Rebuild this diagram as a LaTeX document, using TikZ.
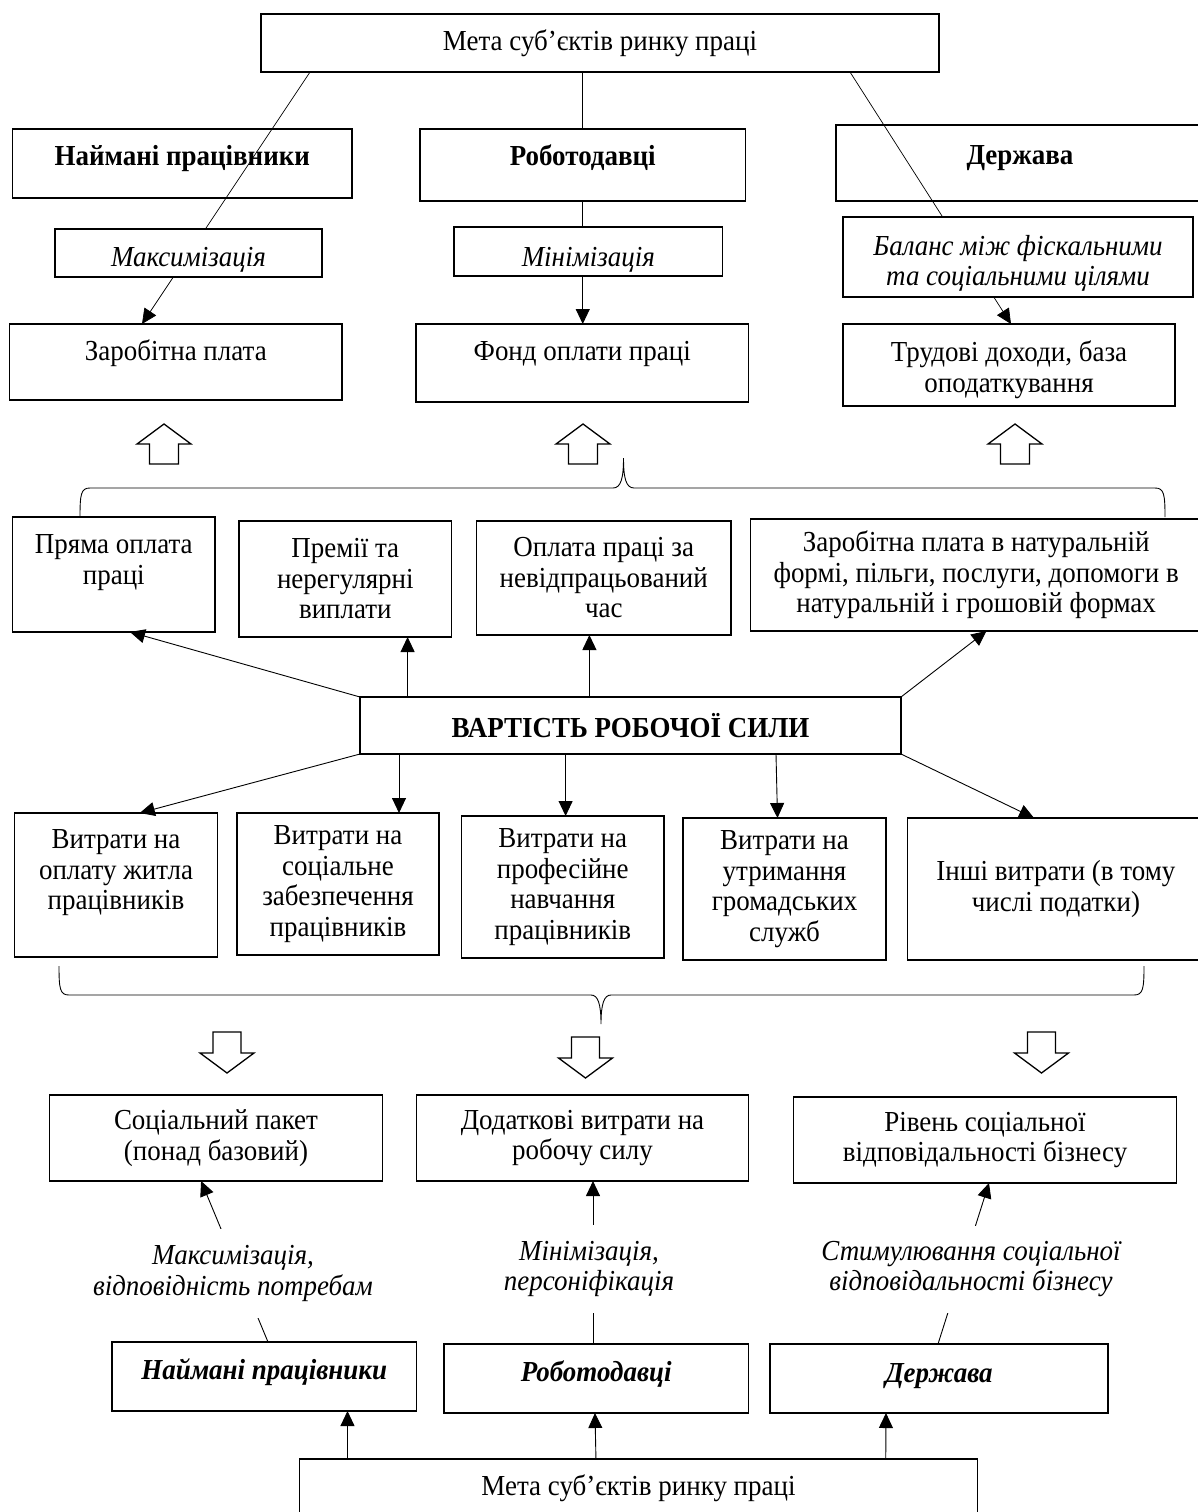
\documentclass[tikz,border=0pt]{standalone}
\usepackage{fontspec}
\setmainfont{Liberation Serif}[FakeStretch=0.93]
\usetikzlibrary{arrows.meta}
\newcommand{\diagfont}{\fontsize{29}{30.5}\selectfont}

\begin{document}
\begin{tikzpicture}
          [x=1pt, y=-1pt,
           every node/.style={font=\diagfont, align=center, inner sep=0pt, outer sep=0pt},
           box/.style 2 args={draw, line width=1.1pt, fill=white, minimum width=#1pt, minimum height=#2pt},
           lift/.style 2 args={text height=#1pt, text depth=#2pt},
           lower/.style={text height=#1pt},
           actor/.style={font=\diagfont\bfseries},
           actorit/.style={font=\diagfont\bfseries\itshape},
           goal/.style={font=\diagfont\itshape},
           link/.style={line width=0.9pt},
           thinlink/.style={line width=0.7pt},
           blockarrow/.style={line width=1.3pt, line join=miter},
           >={Triangle[length=15pt, width=14pt]}]
          \useasboundingbox (0,0) rectangle (1197,1512);

          \node (meta) [box={678}{58}] at (600,43) {Мета суб’єктів ринку праці};
          \node (nt) [box={339.4}{69}, actor, lift={20}{16}] at (182.3,163.5) {Наймані працівники};
          \node (rt) [box={325.5}{72}, actor, lift={20}{19}] at (582.75,165) {Роботодавці};
          \node (dt) [box={368}{76}, actor, lift={20}{17}] at (1020,163) {Держава};
          \node (zp) [box={332.4}{76}, lift={20}{23}] at (175.8,362) {Заробітна плата};
          \node (fond) [box={332.5}{78}, lift={20}{25}] at (582.25,363) {Фонд оплати праці};
          \node (tr) [box={332}{82}, lower=61] at (1009,365) {Трудові доходи, база\\оподаткування};
          \draw[thinlink, ->] ([xshift=49pt]meta.south west) -- ([xshift=132.4pt]zp.north west);
          \draw[thinlink, ->] ([xshift=-89pt]meta.south east) -- ([xshift=168pt]tr.north west);
          \node (max) [box={267}{48}, goal, lift={30}{4}] at (188.5,253) {Максимізація};
          \node (min) [box={268.6}{49}, goal, lift={34}{4}] at (588.3,251.5) {Мінімізація};
          \node (bal) [box={350}{80}, goal, lower=63] at (1018,257) {Баланс між фіскальними\\та соціальними цілями};
          \draw[link] (meta.south -| rt.north) -- (rt.north);
          \draw[link] (rt.south) -- (rt.south |- min.north);
          \draw[link, ->] (rt.south |- min.south) -- (rt.south |- fond.north);

          \foreach \x in {164,583,1015}
            \draw[blockarrow] (\x-14.5,464) -- (\x-14.5,444) -- (\x-27,444) -- (\x,424) -- (\x+27,444) -- (\x+14.5,444) -- (\x+14.5,464) -- cycle;
          \draw[link] (80,517) .. controls (80,494) and (81,488) .. (90,488) -- (613,488) .. controls (621,488) and (623.5,478) .. (623.5,458) .. controls (623.5,478) and (626,488) .. (634,488) -- (1155,488) .. controls (1164,488) and (1165,494) .. (1165,517);

          \node (pr) [box={202.4}{115}] at (113.8,574.5) {Пряма оплата\\праці\\\mbox{}};
          \node (prem) [box={212.6}{116}] at (345.3,579) {Премії та\\нерегулярні\\виплати};
          \node (opl) [box={254.5}{114}] at (603.75,578) {Оплата праці за\\невідпрацьований\\час};
          \node (zpn) [box={451.6}{112}] at (976.2,575) {Заробітна плата в натуральній\\формі, пільги, послуги, допомоги в\\натуральній і грошовій формах};
          \node (vrs) [box={541}{57}, actor] at (630.5,725.5) {ВАРТІСТЬ РОБОЧОЇ СИЛИ};
          \draw[link, ->] (vrs.north west) -- ([xshift=117.4pt]pr.south west);
          \draw[link, ->] ([xshift=47.6pt]vrs.north west) -- ([xshift=168.6pt]prem.south west);
          \draw[link, ->] ([xshift=229.4pt]vrs.north west) -- ([xshift=112.9pt]opl.south west);
          \draw[link, ->] (vrs.north east) -- ([xshift=236.1pt]zpn.south west);

          \node (vz) [box={202.9}{144}] at (116,885) {Витрати на\\оплату житла\\працівників\\\mbox{}};
          \node (vs) [box={202}{142}] at (338,884) {Витрати на\\соціальне\\забезпечення\\працівників};
          \node (vp) [box={202.5}{142}] at (562.75,887) {Витрати на\\професійне\\навчання\\працівників};
          \node (vg) [box={203}{142}] at (784.5,889) {Витрати на\\утримання\\громадських\\служб};
          \node (vi) [box={296.3}{142}] at (1055.9,889) {Інші витрати (в тому\\числі податки)};
          \draw[link, ->] (vrs.south west) -- ([xshift=125.2pt]vz.north west);
          \draw[link, ->] ([xshift=39pt]vrs.south west) -- ([xshift=162pt]vs.north west);
          \draw[link, ->] ([xshift=205.6pt]vrs.south west) -- ([xshift=104.1pt]vp.north west);
          \draw[link, ->] ([xshift=-125pt]vrs.south east) -- ([xshift=94.5pt]vg.north west);
          \draw[link, ->] (vrs.south east) -- ([xshift=126.3pt]vi.north west);

          \draw[link] (59,966) .. controls (59,989) and (60,995) .. (69,995) -- (591,995) .. controls (598,995) and (601,1004) .. (601,1024) .. controls (601,1004) and (604,995) .. (611,995) -- (1134,995) .. controls (1143,995) and (1144,989) .. (1144,966);
          \foreach \x/\y in {227/1032, 585.5/1037, 1041.5/1032}
            \draw[blockarrow] (\x-14,\y) -- (\x+14,\y) -- (\x+14,\y+21) -- (\x+27,\y+21) -- (\x,\y+41) -- (\x-27,\y+21) -- (\x-14,\y+21) -- cycle;

          \node (soc) [box={332.2}{86}] at (216,1138) {Соціальний пакет\\(понад базовий)};
          \node (dod) [box={332}{86}] at (582.5,1138) {Додаткові витрати на\\робочу силу};
          \node (riv) [box={383.5}{86}] at (985,1140) {Рівень соціальної\\відповідальності бізнесу};
          \node (nb) [box={304.4}{69}, actorit, lift={20}{14}] at (264.2,1376.5) {Наймані працівники};
          \node (rb) [box={304.5}{69}, actorit, lift={20}{14}] at (596.25,1378.5) {Роботодавці};
          \node (db) [box={338}{69}, actorit, lift={20}{12}] at (939,1378.5) {Держава};
          \node (mb) [box={678.5}{58}] at (638.5,1488) {Мета суб’єктів ринку праці};
          \draw[link, ->] ([xshift=156pt]nb.north west) -- ([xshift=151.2pt]soc.south west);
          \draw[link, ->] ([xshift=-3.25pt]rb.north) -- ([xshift=10.5pt]dod.south);
          \draw[link, ->] ([xshift=-1pt]db.north) -- ([xshift=4pt]riv.south);
          \node (tmax) [goal, fill=white, minimum height=89pt] at (233,1273.5) {Максимізація,\\відповідність потребам};
          \node (tmin) [goal, fill=white, minimum height=88pt] at (589,1269) {Мінімізація,\\персоніфікація};
          \node (tstim) [goal, fill=white, minimum height=87pt] at (971,1269) {Стимулювання соціальної\\відповідальності бізнесу};
          \draw[link, ->] ([xshift=48.2pt]mb.north west) -- ([xshift=235.5pt]nb.south west);
          \draw[link, ->] ([xshift=296.7pt]mb.north west) -- ([xshift=-1.25pt]rb.south);
          \draw[link, ->] ([xshift=-92pt]mb.north east) -- ([xshift=-53pt]db.south);
        \end{tikzpicture}
\end{document}
